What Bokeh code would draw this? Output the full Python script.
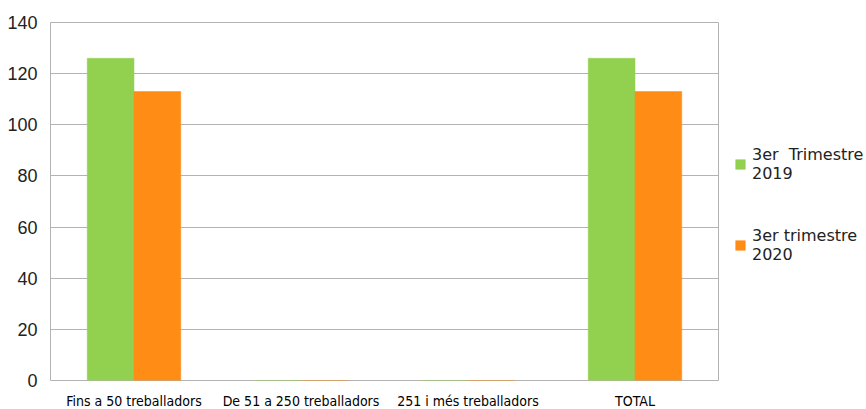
from bokeh.plotting import figure
from bokeh.models import FactorRange, Legend, LegendItem, ColumnDataSource, SingleIntervalTicker
from bokeh.transform import dodge
from bokeh.embed import file_html
from bokeh.resources import INLINE

categories = ["Fins a 50 treballadors", "De 51 a 250 treballadors", "251 i més treballadors", "TOTAL"]
values_2019 = [126, 0, 0, 126]
values_2020 = [113, 0, 0, 113]
series_labels = ["3er  Trimestre\n2019", "3er trimestre\n2020"]
colors = ["#92d050", "#ff8c14"]

src = ColumnDataSource(dict(cat=categories, v19=values_2019, v20=values_2020))

p = figure(x_range=FactorRange(*categories, range_padding=0), y_range=(0, 140),
           frame_width=668, frame_height=358, output_backend="svg", toolbar_location=None,
           min_border_left=50, min_border_right=140, min_border_top=22, min_border_bottom=26)

r1 = p.vbar(x=dodge("cat", -0.14, range=p.x_range), top="v19", width=0.28, source=src,
            fill_color=colors[0], line_color=colors[0], line_alpha=0.5)
r2 = p.vbar(x=dodge("cat", 0.14, range=p.x_range), top="v20", width=0.28, source=src,
            fill_color=colors[1], line_color=colors[1], line_alpha=0.5)

p.outline_line_color = "#b3b3b3"
p.xgrid.grid_line_color = None
p.ygrid.grid_line_color = "#b3b3b3"
p.ygrid.grid_line_width = 1

p.yaxis.ticker = SingleIntervalTicker(interval=20)
p.yaxis.axis_line_color = None
p.yaxis.major_tick_line_color = None
p.yaxis.minor_tick_line_color = None
p.yaxis.major_label_text_font = "Liberation Sans"
p.yaxis.major_label_text_font_size = "18px"
p.yaxis.major_label_text_color = "#222222"
p.yaxis.major_label_standoff = 7

p.xaxis.axis_line_color = None
p.xaxis.major_tick_line_color = None
p.xaxis.minor_tick_line_color = None
p.xaxis.major_label_text_font = "'DejaVu Sans Condensed', sans-serif"
p.xaxis.major_label_text_font_size = "14px"
p.xaxis.major_label_text_color = "#000000"
p.xaxis.major_label_standoff = 6

legend = Legend(items=[LegendItem(label=series_labels[0], renderers=[r1]),
                       LegendItem(label=series_labels[1], renderers=[r2])],
                location=(16, 116), orientation="vertical",
                border_line_color=None, background_fill_alpha=0,
                padding=0, margin=0, spacing=43,
                glyph_width=12, glyph_height=12, label_standoff=6,
                label_text_font="DejaVu Sans", label_text_font_size="16px",
                label_text_line_height=1.2,
                label_text_color="#222222")
p.add_layout(legend, "right")

open("out.html", "w").write(file_html(p, INLINE))
